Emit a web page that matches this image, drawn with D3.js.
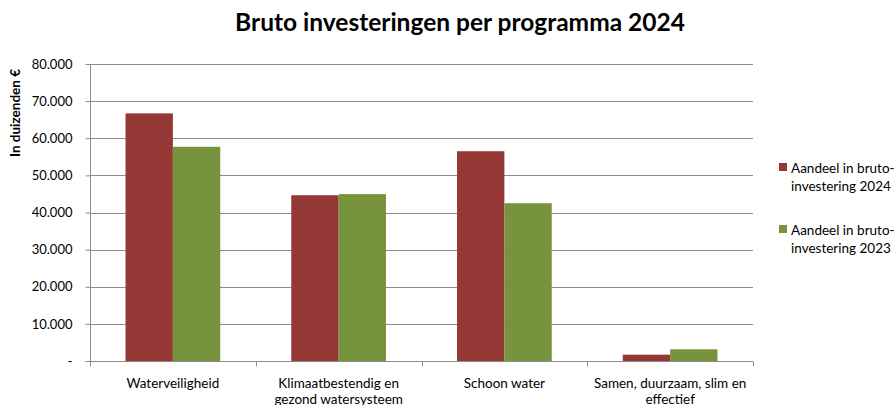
<!DOCTYPE html>
<html>
<head>
<meta charset="utf-8">
<script src="https://cdn.jsdelivr.net/npm/d3@7"></script>
<style>
  html, body { margin: 0; padding: 0; background: #fff; }
  svg text { font-family: Lato, "Noto Sans", sans-serif; fill: #000; }
</style>
</head>
<body>
<svg id="chart" width="894" height="405"></svg>
<script>
const title = "Bruto investeringen per programma 2024";
const yTitle = "In duizenden €";
const categories = [
  ["Waterveiligheid"],
  ["Klimaatbestendig en", "gezond watersysteem"],
  ["Schoon water"],
  ["Samen, duurzaam, slim en", "effectief"]
];
const seriesNames = [
  ["Aandeel in bruto-", "investering 2024"],
  ["Aandeel in bruto-", "investering 2023"]
];
const values2024 = [66700, 44650, 56500, 1700];
const values2023 = [57700, 44950, 42500, 3150];
const yTicks = [0, 10000, 20000, 30000, 40000, 50000, 60000, 70000, 80000];
const colors = ["#953735", "#77933C"];

const svg = d3.select("#chart");
const margin = { left: 90, right: 141, top: 64, bottom: 44 };
const W = 894, H = 405;
const x0 = margin.left, x1 = W - margin.right;
const y0 = H - margin.bottom, y1 = margin.top;

const x = d3.scaleBand().domain(d3.range(categories.length)).range([x0, x1]).paddingInner(0).paddingOuter(0);
const y = d3.scaleLinear().domain([0, 80000]).range([y0, y1]);
const bw = x.bandwidth() / 3.5;

// gridlines
svg.append("g").selectAll("line").data(yTicks.filter(d => d > 0)).join("line")
  .attr("x1", x0).attr("x2", x1)
  .attr("y1", d => Math.round(y(d)) + 0.5).attr("y2", d => Math.round(y(d)) + 0.5)
  .attr("stroke", "#8c8c8c").attr("stroke-width", 1);

// bars
const series = [values2024, values2023];
series.forEach((vals, si) => {
  svg.append("g").selectAll("rect").data(vals).join("rect")
    .attr("x", (d, i) => x(i) + bw * 0.75 + si * bw)
    .attr("width", bw)
    .attr("y", d => y(d))
    .attr("height", d => y0 - y(d))
    .attr("fill", colors[si]);
});

// y axis
const fmt = d => d === 0 ? "-" : d3.format(",")(d).replace(/,/g, ".");
const yAxis = d3.axisLeft(y).tickValues(yTicks).tickFormat(fmt).tickSize(5).tickPadding(13);
const gy = svg.append("g").attr("transform", `translate(${x0 + 0.5},0)`).call(yAxis);
gy.select(".domain").attr("stroke", "#8c8c8c").attr("d", `M0,${y1}V${y0}`);
gy.selectAll(".tick line").attr("stroke", "#8c8c8c");
gy.selectAll(".tick text").attr("font-size", 13).attr("fill", "#000").style("font-family", "Lato");

// x axis
const gx = svg.append("g").attr("transform", `translate(0,${Math.round(y0) + 0.5})`);
gx.append("line").attr("x1", x0).attr("x2", x1).attr("stroke", "#8c8c8c");
gx.selectAll("line.tk").data(d3.range(categories.length + 1)).join("line").attr("class", "tk")
  .attr("x1", i => Math.round(x0 + i * x.bandwidth()) + 0.5)
  .attr("x2", i => Math.round(x0 + i * x.bandwidth()) + 0.5)
  .attr("y1", 0).attr("y2", 5).attr("stroke", "#8c8c8c");
const lbl = gx.selectAll("text").data(categories).join("text")
  .attr("text-anchor", "middle").attr("font-size", 13.5)
  .attr("transform", (d, i) => `translate(${x(i) + x.bandwidth() / 2},26)`);
lbl.selectAll("tspan").data(d => d).join("tspan")
  .attr("x", 0).attr("dy", (d, i) => i === 0 ? 0 : 16).text(d => d);

// y title
svg.append("text").attr("transform", `translate(20,113) rotate(-90)`)
  .attr("text-anchor", "middle").attr("font-size", 13.5).attr("font-weight", "bold").text(yTitle);

// title
svg.append("text").attr("x", 460).attr("y", 31).attr("text-anchor", "middle")
  .attr("font-size", 24.5).attr("font-weight", "bold").text(title);

// legend
const lg = svg.append("g");
seriesNames.forEach((nm, i) => {
  const gy0 = 163 + i * 62;
  lg.append("rect").attr("x", 779).attr("y", gy0).attr("width", 8).attr("height", 8).attr("fill", colors[i]);
  const t = lg.append("text").attr("font-size", 13.5).attr("transform", `translate(791,${gy0 + 10})`);
  t.selectAll("tspan").data(nm).join("tspan").attr("x", 0).attr("dy", (d, j) => j === 0 ? 0 : 18).text(d => d);
});
</script>
</body>
</html>
